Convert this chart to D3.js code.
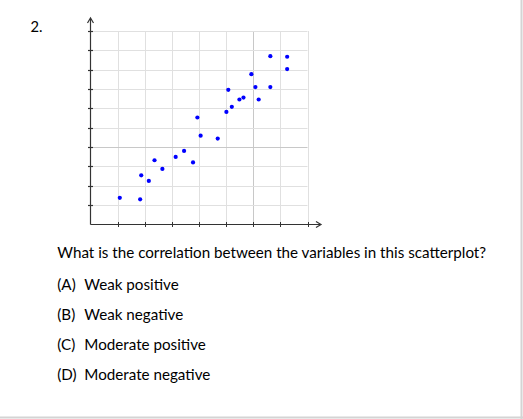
<!DOCTYPE html>
<html>
<head>
<meta charset="utf-8">
<script src="https://cdn.jsdelivr.net/npm/d3@7"></script>
<style>
  html, body { margin: 0; padding: 0; background: #fff; }
  svg { display: block; }
</style>
</head>
<body>
<script>
// ---- data ----
const xValues = [1.08, 1.83, 1.87, 2.15, 2.36, 2.65, 3.14, 3.45, 3.78, 3.94, 4.06, 4.69,
                 5.01, 5.08, 5.21, 5.49, 5.64, 5.93, 6.08, 6.20, 6.63, 6.63, 7.25, 7.25];
const yValues = [1.38, 1.30, 2.54, 2.25, 3.32, 2.87, 3.49, 3.80, 3.21, 5.53, 4.59, 4.44,
                 5.82, 6.96, 6.08, 6.46, 6.56, 7.77, 7.10, 6.46, 8.70, 7.10, 8.67, 8.03];
const xTicks = [0, 1, 2, 3, 4, 5, 6, 7, 8];
const yTicks = [0, 1, 2, 3, 4, 5, 6, 7, 8, 9, 10];
const questionNumber = "2.";
const questionText = "What is the correlation between the variables in this scatterplot?";
const optionLetters = ["(A)", "(B)", "(C)", "(D)"];
const optionTexts = ["Weak positive", "Weak negative", "Moderate positive", "Moderate negative"];

const W = 523, H = 419;
const svg = d3.select("body").append("svg").attr("width", W).attr("height", H);
const FONT = "Lato, 'Open Sans', sans-serif";

// page border (right & bottom)
svg.append("line").attr("x1", W - 1.5).attr("x2", W - 1.5).attr("y1", 0).attr("y2", H)
  .attr("stroke", "#d4d4d4").attr("stroke-width", 2);
svg.append("line").attr("x1", 0).attr("x2", W).attr("y1", H - 1.5).attr("y2", H - 1.5)
  .attr("stroke", "#d4d4d4").attr("stroke-width", 2);

const x = d3.scaleLinear().domain([0, 8]).range([90.5, 307.5]);
const y = d3.scaleLinear().domain([0, 10]).range([224.5, 31]);

// grid
const grid = svg.append("g");
grid.selectAll("line.v").data(xTicks.slice(1)).join("line")
  .attr("x1", d => Math.round(x(d)) + 0.5).attr("x2", d => Math.round(x(d)) + 0.5)
  .attr("y1", y(10)).attr("y2", y(0))
  .attr("stroke", d => d === 6 ? "#c8c8c8" : "#e0e0e0").attr("stroke-width", 1);
grid.selectAll("line.h").data(yTicks.slice(1)).join("line")
  .attr("y1", d => Math.round(y(d)) + 0.5).attr("y2", d => Math.round(y(d)) + 0.5)
  .attr("x1", x(0)).attr("x2", x(8))
  .attr("stroke", d => d === 4 ? "#c8c8c8" : "#e0e0e0").attr("stroke-width", 1);

// axes
const axisColor = "#333";
svg.append("line").attr("x1", x(0)).attr("x2", x(0)).attr("y1", 19).attr("y2", y(0))
  .attr("stroke", axisColor).attr("stroke-width", 1.2);
svg.append("line").attr("x1", x(0)).attr("x2", 320).attr("y1", y(0)).attr("y2", y(0))
  .attr("stroke", axisColor).attr("stroke-width", 1.2);
// arrowheads (open chevrons)
svg.append("path").attr("d", `M${x(0) - 3},${23} L${x(0)},${18} L${x(0) + 3},${23}`)
  .attr("fill", "none").attr("stroke", axisColor).attr("stroke-width", 1.2);
svg.append("path").attr("d", `M${316},${y(0) - 3} L${321},${y(0)} L${316},${y(0) + 3}`)
  .attr("fill", "none").attr("stroke", axisColor).attr("stroke-width", 1.2);

// ticks
svg.selectAll("line.yt").data(yTicks.slice(1)).join("line")
  .attr("x1", x(0) - 2.5).attr("x2", x(0) + 2.5)
  .attr("y1", d => Math.round(y(d)) + 0.5).attr("y2", d => Math.round(y(d)) + 0.5)
  .attr("stroke", axisColor).attr("stroke-width", 1.2);
svg.selectAll("line.xt").data(xTicks.slice(1)).join("line")
  .attr("y1", y(0) - 2.5).attr("y2", y(0) + 2.5)
  .attr("x1", d => Math.round(x(d)) + 0.5).attr("x2", d => Math.round(x(d)) + 0.5)
  .attr("stroke", axisColor).attr("stroke-width", 1);

// points
svg.selectAll("circle.pt").data(xValues.map((v, i) => [v, yValues[i]])).join("circle")
  .attr("cx", d => x(d[0])).attr("cy", d => y(d[1])).attr("r", 2.1)
  .attr("fill", "#0000ff");

// text helper: fit font size to target width
function fitText(sel, targetWidth) {
  const n = sel.node();
  const w = n.getComputedTextLength();
  const fs = parseFloat(sel.attr("font-size"));
  sel.attr("font-size", fs * targetWidth / w);
}

const num = svg.append("text").attr("x", 30.5).attr("y", 32)
  .attr("font-family", FONT).attr("font-size", 15).attr("fill", "#000").text(questionNumber);
fitText(num, 12);

const q = svg.append("text").attr("x", 57.3).attr("y", 257.5)
  .attr("font-family", FONT).attr("font-size", 15).attr("fill", "#000").text(questionText);
fitText(q, 429);
const qfs = parseFloat(q.attr("font-size"));

optionLetters.forEach((l, i) => {
  const yy = 290 + i * 30;
  svg.append("text").attr("x", 57.3).attr("y", yy)
    .attr("font-family", FONT).attr("font-size", qfs).attr("fill", "#000").text(l);
  svg.append("text").attr("x", 84.3).attr("y", yy)
    .attr("font-family", FONT).attr("font-size", qfs).attr("fill", "#000").text(optionTexts[i]);
});
</script>
</body>
</html>
